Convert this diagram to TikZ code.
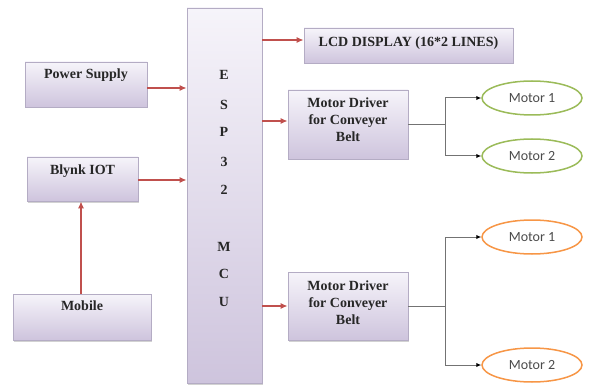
\documentclass[tikz,border=0pt]{standalone}
\usepackage{fontspec}
\setmainfont{Liberation Serif}
\newfontfamily\calib{Carlito}
\usetikzlibrary{arrows.meta,shadows,shapes.geometric}
\definecolor{boxtop}{HTML}{F6F4FA}
\definecolor{boxbot}{HTML}{CEC4DD}
\definecolor{boxline}{HTML}{B4ACC4}
\definecolor{redline}{HTML}{C0504D}
\definecolor{greenline}{HTML}{9BBB59}
\definecolor{orangeline}{HTML}{F79646}
\tikzset{
  blockbox/.style={draw=boxline, line width=0.6pt, top color=boxtop, bottom color=boxbot,
    inner sep=0pt, drop shadow={shadow xshift=1.2pt, shadow yshift=-1.5pt, fill=black!35, opacity=0.5}},
  boxtext/.style={font=\fontsize{14}{17}\selectfont\bfseries, text=black!85, align=center, inner sep=0pt},
  letter/.style={font=\fontsize{14}{17}\selectfont\bfseries, text=black!85, inner sep=0pt},
  redarrow/.style={draw=redline, line width=1.6pt, -{Latex[length=7pt,width=6pt]}},
  greyarrow/.style={draw=black!55, line width=1pt, -{Latex[length=5pt,width=4.5pt,color=black]}},
  greyline/.style={draw=black!55, line width=1pt},
  motor/.style={ellipse, draw, line width=1.5pt, fill=white, minimum width=100pt, minimum height=34pt,
    inner sep=0pt, font=\calib\fontsize{14}{17}\selectfont, text=black!70},
}
\begin{document}
\begin{tikzpicture}[x=1pt,y=-1pt]
\useasboundingbox (0,0) rectangle (589,385);
% ESP32 block
\node[blockbox, minimum width=75pt, minimum height=375pt] (esp) at (224.5,195.5) {};
\node[letter] (e1) at (224,75) {E};
\node[letter] (e2) at (224,105) {S};
\node[letter] (e3) at (224,132) {P};
\node[letter] (e4) at (224,162) {3};
\node[letter] (e5) at (224,190) {2};
\node[letter] (e6) at (224,247) {M};
\node[letter] (e7) at (224,274) {C};
\node[letter] (e8) at (224,302) {U};
% left blocks
\node[blockbox, minimum width=122pt, minimum height=45pt] (ps) at (86,84.5) {};
\node[boxtext] (pst) at (86,75) {Power Supply};
\node[blockbox, minimum width=111pt, minimum height=44pt] (blynk) at (82.5,179) {};
\node[boxtext] (blt) at (82.5,171) {Blynk IOT};
\node[blockbox, minimum width=138pt, minimum height=46pt] (mobile) at (82,317) {};
\node[boxtext] (mot) at (82,306) {Mobile};
% right blocks
\node[blockbox, minimum width=209pt, minimum height=35pt] (lcd) at (408.5,45.5) {};
\node[boxtext] (lcdt) at (408.5,43) {LCD DISPLAY (16*2 LINES)};
\node[blockbox, minimum width=120pt, minimum height=69pt] (md1) at (348,124.5) {};
\node[boxtext] (md1t) at (348,120) {Motor Driver\\for Conveyer\\Belt};
\node[blockbox, minimum width=120pt, minimum height=68pt] (md2) at (348,306) {};
\node[boxtext] (md2t) at (348,303) {Motor Driver\\for Conveyer\\Belt};
% motors
\node[motor, draw=greenline] (m11) at (532,98) {Motor 1};
\node[motor, draw=greenline] (m12) at (532,156) {Motor 2};
\node[motor, draw=orangeline] (m21) at (532,237) {Motor 1};
\node[motor, draw=orangeline] (m22) at (532,365) {Motor 2};
% red connectors
\draw[redarrow] (ps.east |- 0,88) -- (esp.west |- 0,88);
\draw[redarrow] (blynk.east |- 0,180) -- (esp.west |- 0,180);
\draw[redarrow] (mobile.north -| 81,0) -- (blynk.south -| 81,0);
\draw[redarrow] (esp.east |- 0,40) -- (lcd.west |- 0,40);
\draw[redarrow] (esp.east |- 0,121) -- (md1.west |- 0,121);
\draw[redarrow] (esp.east |- 0,306) -- (md2.west |- 0,306);
% motor branches
\coordinate (j1) at (445,125);
\coordinate (j2) at (445,306);
\draw[greyline] (md1.east |- j1) -- (j1);
\draw[greyarrow] (j1) |- (m11.west);
\draw[greyarrow] (j1) |- (m12.west);
\draw[greyline] (md2.east |- j2) -- (j2);
\draw[greyarrow] (j2) |- (m21.west);
\draw[greyarrow] (j2) |- (m22.west);
\end{tikzpicture}
\end{document}
